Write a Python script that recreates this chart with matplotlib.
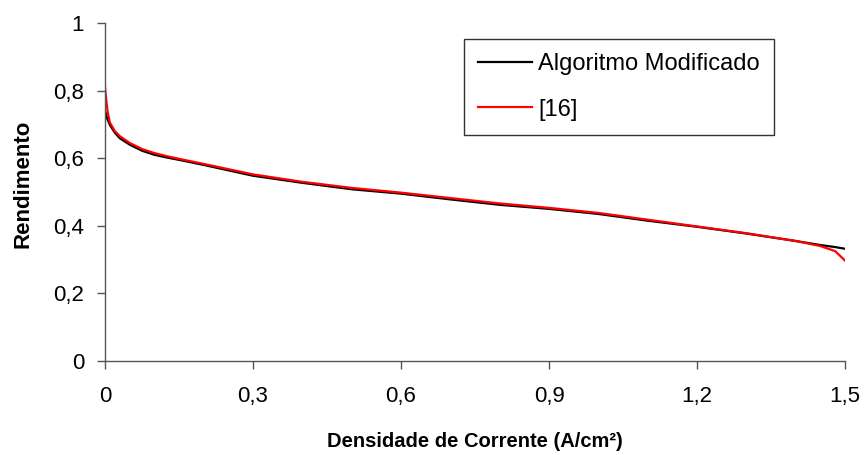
import matplotlib
matplotlib.use("Agg")
import matplotlib.pyplot as plt
from matplotlib.ticker import FuncFormatter

plt.rcParams['font.family'] = ['Liberation Sans', 'DejaVu Sans']

densidade = [0, 0.002, 0.005, 0.01, 0.02, 0.03, 0.05, 0.075, 0.1, 0.125, 0.15, 0.2,
             0.3, 0.4, 0.5, 0.6, 0.7, 0.8, 0.9, 1.0, 1.1, 1.2, 1.3, 1.4, 1.45, 1.48, 1.5]
algoritmo_modificado = [0.74, 0.73, 0.715, 0.698, 0.675, 0.659, 0.64, 0.622, 0.61, 0.602, 0.595, 0.58,
                        0.548, 0.527, 0.508, 0.495, 0.478, 0.462, 0.450, 0.435, 0.415, 0.397, 0.377,
                        0.355, 0.343, 0.337, 0.332]
ref16 = [0.81, 0.78, 0.74, 0.705, 0.68, 0.665, 0.645, 0.627, 0.615, 0.606, 0.598, 0.583,
         0.552, 0.530, 0.512, 0.498, 0.482, 0.466, 0.453, 0.438, 0.418, 0.398, 0.378,
         0.355, 0.340, 0.325, 0.297]

x_ticks = [0, 0.3, 0.6, 0.9, 1.2, 1.5]
y_ticks = [0, 0.2, 0.4, 0.6, 0.8, 1.0]

fig = plt.figure(figsize=(8.65, 4.55), dpi=100)
ax = fig.add_axes([0.1214, 0.2066, 0.8555, 0.743])

ax.plot(densidade, algoritmo_modificado, color='black', lw=1.6, label='Algoritmo Modificado')
ax.plot(densidade, ref16, color='#ff0000', lw=1.6, label='[16]')

ax.set_xlim(0, 1.5)
ax.set_ylim(0, 1)
ax.set_xticks(x_ticks)
ax.set_yticks(y_ticks)

def fmt(v, pos):
    s = ('%.1f' % v)
    if s.endswith('.0'):
        s = s[:-2]
    return s.replace('.', ',')

ax.xaxis.set_major_formatter(FuncFormatter(fmt))
ax.yaxis.set_major_formatter(FuncFormatter(fmt))

for s in ['top', 'right']:
    ax.spines[s].set_visible(False)
for s in ['left', 'bottom']:
    ax.spines[s].set_color('#555555')
    ax.spines[s].set_linewidth(1.0)

ax.tick_params(axis='both', direction='out', length=6, width=1.0, color='#555555',
               labelsize=16, labelcolor='black')
ax.tick_params(axis='x', pad=12)
ax.tick_params(axis='y', pad=9)

ax.set_xlabel('Densidade de Corrente (A/cm²)', fontsize=14.5, fontweight='bold', labelpad=18)
ax.set_ylabel('Rendimento', fontsize=16, fontweight='bold')
ax.yaxis.set_label_coords(-0.097, 0.524)

leg = ax.legend(loc='upper left', bbox_to_anchor=(0.485, 0.953), fontsize=17,
                frameon=True, fancybox=False, edgecolor='black', handlelength=2.29,
                labelspacing=1.0, borderpad=0.6, handletextpad=0.25, borderaxespad=0)
leg.get_frame().set_linewidth(1.0)

fig.savefig('out.png', dpi=100)
